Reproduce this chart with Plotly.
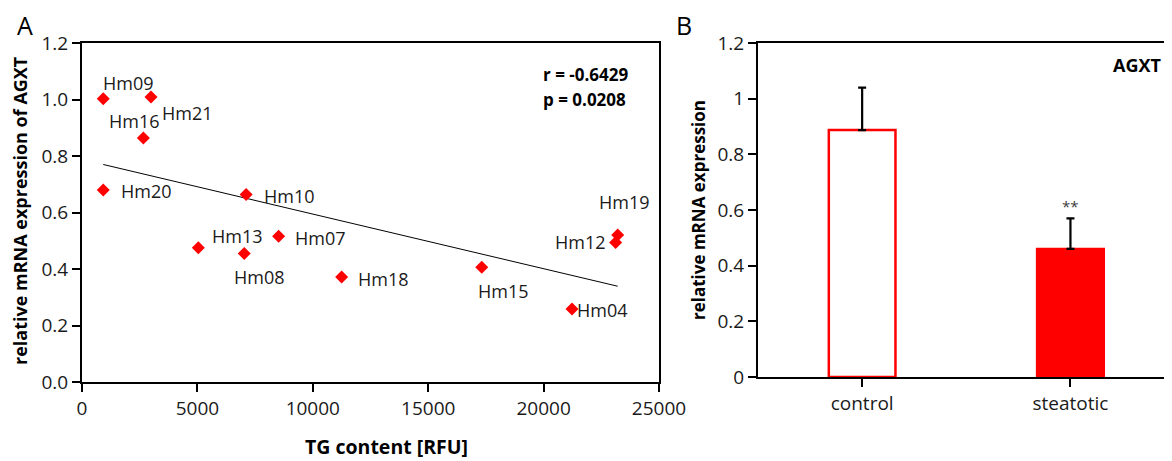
import plotly.graph_objects as go

# ---- Panel A data ----
samples = ["Hm09", "Hm21", "Hm16", "Hm20", "Hm10", "Hm13", "Hm08", "Hm07",
           "Hm18", "Hm15", "Hm04", "Hm12", "Hm19"]
tg_content = [920, 2990, 2660, 920, 7110, 5040, 7030, 8520,
              11250, 17320, 21230, 23120, 23210]
agxt_expr = [1.003, 1.009, 0.864, 0.680, 0.664, 0.475, 0.455, 0.516,
             0.372, 0.406, 0.258, 0.494, 0.520]
trend_x = [920, 23210]
trend_y = [0.770, 0.339]
stats_text = ["r = -0.6429", "p = 0.0208"]

# ---- Panel B data ----
groups = ["control", "steatotic"]
group_means = [0.887, 0.460]
group_err = [0.153, 0.110]
signif = ["", "**"]

# label pixel offsets (dx right, dy down) for sample labels
label_offsets = {
    "Hm09": (25, -16), "Hm21": (36, 16), "Hm16": (-9, -17), "Hm20": (43, 1),
    "Hm10": (43, 2), "Hm13": (39, -12), "Hm08": (15, 24), "Hm07": (42, 2),
    "Hm18": (42, 2), "Hm15": (22, 24), "Hm04": (31, 1), "Hm12": (-35, 0),
    "Hm19": (7, -33),
}

FONT = "Open Sans"
OFF = 8  # page body margin
W, H = 1172 - OFF, 461 - OFF
TXT = "#1a1a1a"

fig = go.Figure()

fig.add_trace(go.Scatter(
    x=trend_x, y=trend_y, mode="lines",
    line=dict(color="black", width=1), xaxis="x", yaxis="y", showlegend=False,
    hoverinfo="skip"))
fig.add_trace(go.Scatter(
    x=tg_content, y=agxt_expr, mode="markers", text=samples,
    marker=dict(symbol="diamond", color="#ff0000", size=10, line=dict(width=0)),
    xaxis="x", yaxis="y", showlegend=False))

fig.add_trace(go.Bar(
    x=groups, y=group_means, width=0.32,
    marker=dict(color=["white", "#ff0000"], line=dict(color="#ff0000", width=2.5)),
    error_y=dict(type="data", symmetric=False, array=group_err,
                 arrayminus=[0, 0], color="black", thickness=2.2, width=4),
    xaxis="x2", yaxis="y2", showlegend=False))

def px_x(p):
    return (p - OFF) / W

def px_y(p):
    return 1 - (p - OFF) / H

axis_common = dict(showgrid=False, zeroline=False, showline=True, linecolor="black",
                   linewidth=2, ticks="outside", ticklen=8, tickwidth=2, automargin=False,
                   tickcolor="black", tickfont=dict(family=FONT, size=19, color=TXT))

fig.update_layout(
    width=W, height=H, margin=dict(l=0, r=0, t=0, b=0, autoexpand=False),
    paper_bgcolor="white", plot_bgcolor="white",
    font=dict(family=FONT, color="black"),
    xaxis=dict(domain=[px_x(82), px_x(659)], range=[0, 25000], tickvals=[0, 5000, 10000, 15000, 20000, 25000],
               tickformat="d", mirror=True, anchor="y", **axis_common),
    yaxis=dict(domain=[px_y(382), px_y(43)], range=[0, 1.2], dtick=0.2, tickformat=".1f",
               mirror=True, anchor="x", **axis_common),
    xaxis2=dict(domain=[px_x(758), 1.0], range=[-0.5, 1.4875], mirror=True, anchor="y2",
                **axis_common),
    yaxis2=dict(domain=[px_y(377), px_y(43)], range=[0, 1.2], dtick=0.2, anchor="x2",
                **axis_common),
    bargap=0.68,
)

ann = []
for s, xv, yv in zip(samples, tg_content, agxt_expr):
    dx, dy = label_offsets[s]
    ann.append(dict(x=xv, y=yv, xref="x", yref="y", text=s, showarrow=False,
                    xshift=dx, yshift=-dy, font=dict(family=FONT, size=18, color=TXT)))

def paper_text(px, py, text, size, angle=0, xanchor="center"):
    return dict(x=px_x(px), y=px_y(py), xref="paper", yref="paper", text=text,
                textangle=angle, showarrow=False, xanchor=xanchor, yanchor="middle",
                font=dict(family=FONT, size=size, color="black"))

ann.append(paper_text(541, 75, "<b>" + stats_text[0] + "</b>", 17, xanchor="left"))
ann.append(paper_text(541, 99, "<b>" + stats_text[1] + "</b>", 17, xanchor="left"))

for g, m, e, s in zip(groups, group_means, group_err, signif):
    if s:
        ann.append(dict(x=g, y=m + e, xref="x2", yref="y2", text=s, showarrow=False,
                        yanchor="bottom", yshift=0, font=dict(family=FONT, size=15, color="#404040")))

ann.append(paper_text(1137, 65, "<b>AGXT</b>", 18))

# axis titles
ann.append(paper_text(20, 211, "<b>relative mRNA expression of AGXT</b>", 18, angle=-90))
ann.append(paper_text(386, 446, "<b>TG content [RFU]</b>", 19.5))
ann.append(paper_text(698, 210, "<b>relative mRNA expression</b>", 17, angle=-90))

# panel letters
ann.append(paper_text(25, 25, "A", 25))
ann.append(paper_text(684, 25, "B", 25))

fig.update_layout(annotations=ann)

fig.write_html("out.html")
